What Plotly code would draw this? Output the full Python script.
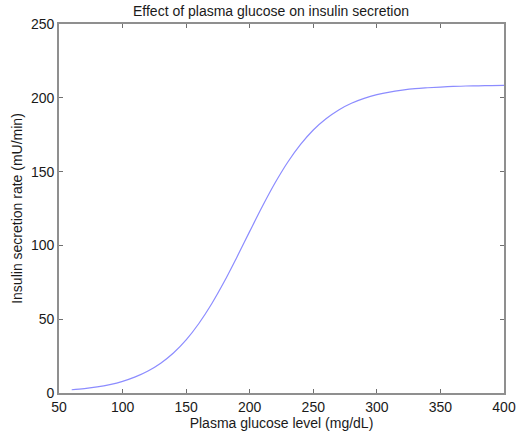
import plotly.graph_objects as go

# Plasma glucose (mg/dL) and insulin secretion rate (mU/min)
glucose = [60, 70, 80, 90, 100, 110, 120, 130, 140, 150, 160, 170, 180, 190,
           200, 210, 220, 230, 240, 250, 260, 270, 280, 290, 300, 310, 320,
           330, 340, 350, 360, 370, 380, 390, 400]
secretion = [2.2, 3.0, 4.1, 5.7, 7.9, 10.9, 14.9, 20.2, 27.1, 36.0, 47.1,
             60.3, 75.5, 92.2, 109.5, 126.5, 142.4, 156.5, 168.4, 178.2,
             185.8, 191.8, 196.3, 199.6, 202.1, 203.9, 205.2, 206.2, 206.8,
             207.3, 207.7, 208.0, 208.1, 208.3, 208.4]

x_ticks = [50, 100, 150, 200, 250, 300, 350, 400]
y_ticks = [0, 50, 100, 150, 200, 250]

FONT = "Liberation Sans, Arial, sans-serif"
AXIS_GREY = "#8f8f8f"

fig = go.Figure(
    go.Scatter(
        x=glucose,
        y=secretion,
        mode="lines",
        line=dict(color="#8c8cff", width=1.2, shape="spline"),
        hoverinfo="x+y",
    )
)

axis_common = dict(
    showline=True,
    linecolor=AXIS_GREY,
    linewidth=1.8,
    mirror="ticks",
    ticks="inside",
    ticklen=4,
    tickcolor="#6f6f6f",
    tickwidth=1,
    showgrid=False,
    zeroline=False,
    automargin=False,
    ticklabeloverflow="allow",
    tickfont=dict(family=FONT, size=14, color="#1a1a1a"),
)

fig.update_layout(
    width=517,
    height=436,
    margin=dict(l=59, r=13, t=24, b=43),
    paper_bgcolor="white",
    plot_bgcolor="white",
    showlegend=False,
    font=dict(family=FONT, color="#1a1a1a"),
    xaxis=dict(
        range=[50, 400],
        tickvals=x_ticks,
        title=dict(text="Plasma glucose level (mg/dL)",
                   font=dict(family=FONT, size=14), standoff=4),
        **axis_common,
    ),
    yaxis=dict(
        range=[0, 250],
        tickvals=y_ticks,
        title=dict(text="Insulin secretion rate (mU/min)",
                   font=dict(family=FONT, size=14), standoff=5),
        **axis_common,
    ),
    annotations=[
        dict(
            text="Effect of plasma glucose on insulin secretion",
            xref="paper", yref="paper",
            x=0.476, y=1.0, yshift=13,
            xanchor="center", yanchor="middle",
            showarrow=False,
            font=dict(family=FONT, size=14, color="#1a1a1a"),
        )
    ],
)

fig.write_html("out.html")
